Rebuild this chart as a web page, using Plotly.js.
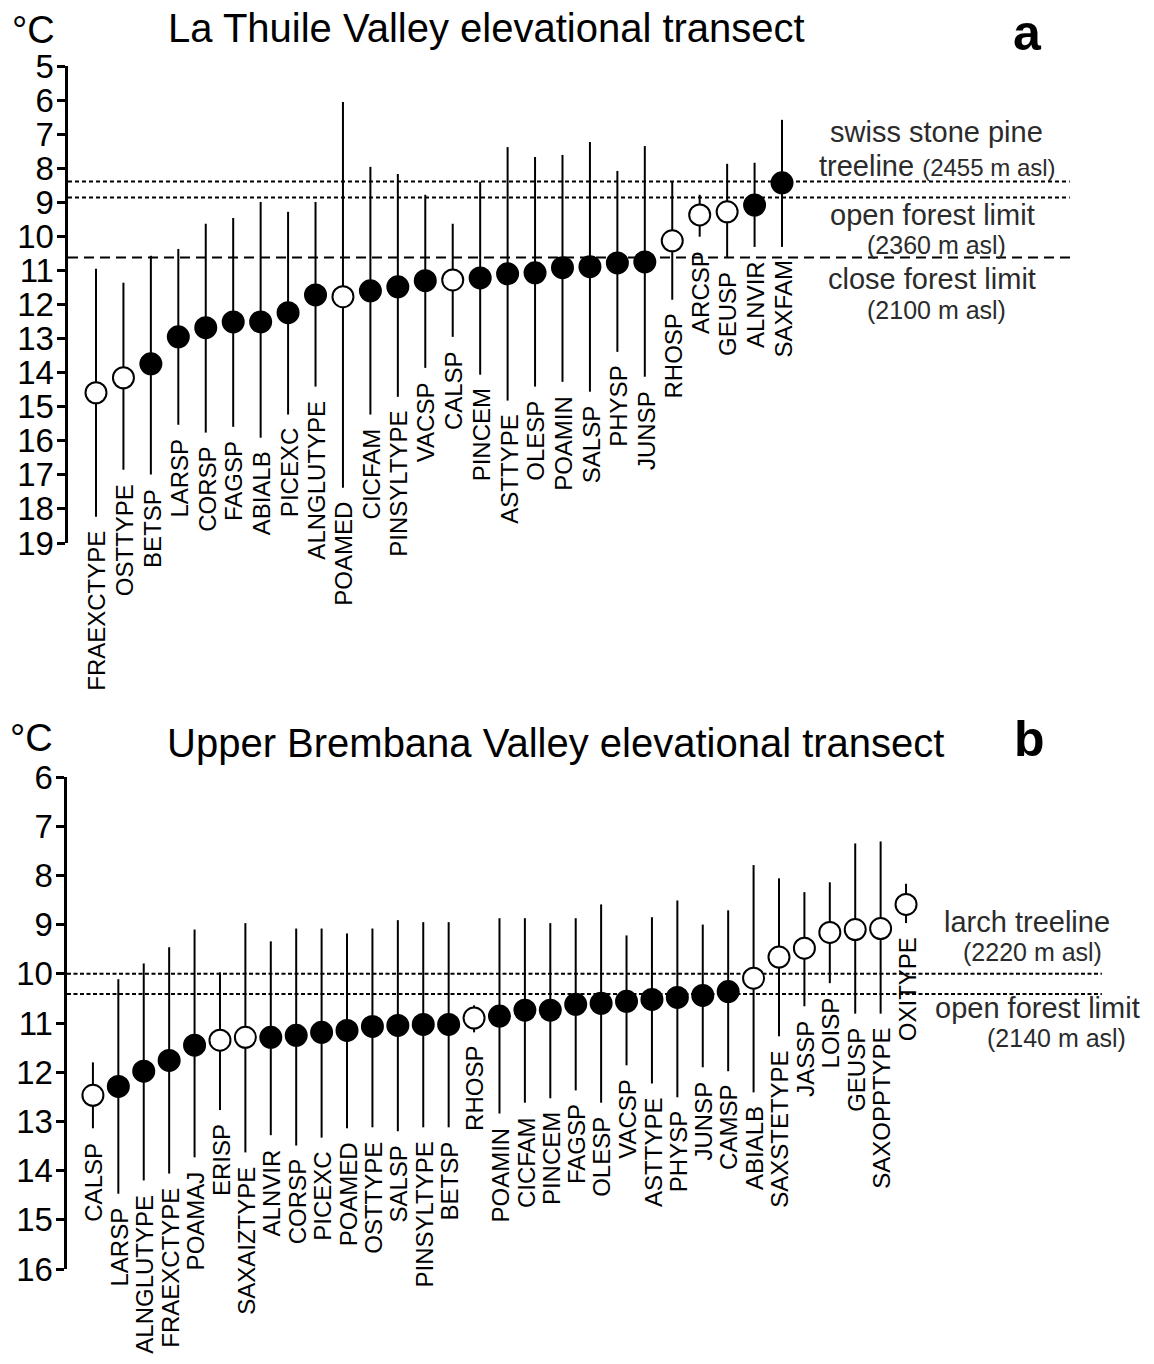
<!DOCTYPE html>
<html>
<head>
<meta charset="utf-8">
<script src="https://cdn.plot.ly/plotly-3.0.1.min.js"></script>
<style>
  html, body { margin: 0; padding: 0; background: #ffffff; }
  #chart { width: 1154px; height: 1364px; }
</style>
</head>
<body>
<div id="chart"></div>
<script>
// ---- Panel a: La Thuile Valley (taxon temperature optimum and tolerance range, °C)
const taxaA = ["FRAEXCTYPE", "OSTTYPE", "BETSP", "LARSP", "CORSP", "FAGSP", "ABIALB", "PICEXC",
  "ALNGLUTYPE", "POAMED", "CICFAM", "PINSYLTYPE", "VACSP", "CALSP", "PINCEM", "ASTTYPE",
  "OLESP", "POAMIN", "SALSP", "PHYSP", "JUNSP", "RHOSP", "ARCSP", "GEUSP", "ALNVIR", "SAXFAM"];
const optimumA = [14.59, 14.15, 13.74, 12.95, 12.68, 12.51, 12.51, 12.24, 11.72, 11.77, 11.60, 11.48,
  11.30, 11.28, 11.22, 11.10, 11.07, 10.92, 10.89, 10.78, 10.75, 10.13, 9.37, 9.28, 9.08, 8.43];
const coldA = [10.95, 11.36, 10.57, 10.37, 9.63, 9.46, 8.99, 9.28, 8.99, 6.06, 7.96, 8.17,
  8.78, 9.63, 8.40, 7.38, 7.67, 7.61, 7.23, 8.08, 7.35, 8.40, 8.78, 7.87, 7.84, 6.58];
const warmA = [18.23, 16.85, 16.99, 15.53, 15.76, 15.59, 15.91, 15.23, 14.41, 17.38, 15.23, 14.71,
  13.86, 12.95, 14.06, 14.82, 14.41, 14.27, 14.56, 13.39, 14.12, 11.86, 10.01, 10.63, 10.31, 10.31];
const openA = [true, true, false, false, false, false, false, false, false, true, false, false,
  false, true, false, false, false, false, false, false, false, true, true, true, false, false];
const limitsA = [8.39, 8.86, 10.62];

// ---- Panel b: Upper Brembana Valley
const taxaB = ["CALSP", "LARSP", "ALNGLUTYPE", "FRAEXCTYPE", "POAMAJ", "ERISP", "SAXAIZTYPE", "ALNVIR",
  "CORSP", "PICEXC", "POAMED", "OSTTYPE", "SALSP", "PINSYLTYPE", "BETSP", "RHOSP", "POAMIN",
  "CICFAM", "PINCEM", "FAGSP", "OLESP", "VACSP", "ASTTYPE", "PHYSP", "JUNSP", "CAMSP", "ABIALB",
  "SAXSTETYPE", "JASSP", "LOISP", "GEUSP", "SAXOPPTYPE", "OXITYPE"];
const optimumB = [12.47, 12.29, 11.98, 11.76, 11.45, 11.35, 11.29, 11.29, 11.25, 11.19, 11.15, 11.07,
  11.05, 11.03, 11.03, 10.90, 10.86, 10.74, 10.74, 10.62, 10.60, 10.56, 10.52, 10.48, 10.44, 10.36,
  10.09, 9.66, 9.48, 9.16, 9.10, 9.08, 8.59];
const coldB = [11.80, 10.11, 9.79, 9.46, 9.10, 9.97, 8.97, 9.34, 9.08, 9.08, 9.18, 9.08,
  8.91, 8.95, 8.95, 10.64, 8.87, 8.87, 8.97, 8.87, 8.59, 9.22, 8.85, 8.51, 9.00, 8.71,
  7.79, 8.06, 8.34, 8.14, 7.35, 7.31, 8.17];
const warmB = [13.14, 14.47, 14.20, 14.06, 13.73, 12.77, 13.63, 13.28, 13.49, 13.33, 13.14, 13.12,
  13.20, 13.12, 13.12, 11.19, 12.84, 12.62, 12.53, 12.37, 12.62, 11.86, 12.23, 12.51, 11.90, 11.98,
  12.41, 11.27, 10.66, 10.19, 10.81, 10.81, 8.97];
const openB = [true, false, false, false, false, true, true, false, false, false, false, false,
  false, false, false, true, false, false, false, false, false, false, false, false, false, false,
  true, true, true, true, true, true, true];
const limitsB = [10.0, 10.41];

// ---- page geometry helpers (pixel -> paper fraction)
const W = 1154, H = 1364;
const fx = p => p / W;
const fy = p => 1 - p / H;
const FONT = "Liberation Sans, Arial, sans-serif";

function taxonTrace(taxa, opt, cold, warm, open, xa, ya) {
  return {
    type: "scatter", mode: "markers",
    x: taxa.map((_, i) => i), y: opt,
    xaxis: xa, yaxis: ya,
    marker: {
      size: 21, symbol: "circle",
      color: open.map(o => (o ? "#ffffff" : "#000000")),
      line: { color: "#000000", width: 2 }
    },
    error_y: {
      type: "data", symmetric: false,
      array: warm.map((w, i) => w - opt[i]),
      arrayminus: cold.map((c, i) => opt[i] - c),
      width: 0, thickness: 2, color: "#000000"
    },
    hoverinfo: "skip", cliponaxis: false, showlegend: false
  };
}

function taxonLabels(taxa, warm, xa, ya) {
  return taxa.map((t, i) => ({
    xref: xa, yref: ya, x: i, y: warm[i],
    text: t, textangle: -90, showarrow: false,
    xanchor: "center", yanchor: "top", yshift: -12, xshift: 1,
    font: { family: FONT, size: 24, color: "#000000" }
  }));
}

function limitLines(values, dashes, xref, yref, ends) {
  return values.map((v, i) => ({
    type: "line", layer: "below",
    xref: xref + " domain", yref: yref,
    x0: 0, x1: ends[i], y0: v, y1: v,
    line: { color: "#000000", width: 2, dash: dashes[i] }
  }));
}

function textAt(text, xpx, ypx, size, opts) {
  return Object.assign({
    xref: "paper", yref: "paper", x: fx(xpx), y: fy(ypx),
    text: text, showarrow: false, xanchor: "center", yanchor: "middle",
    font: { family: FONT, size: size, color: "#000000" }
  }, opts || {});
}

const grey = "#2b2b2b";
const note = size => ({ font: { family: FONT, size: size, color: grey } });
const annotations = [
  // panel a headings
  textAt("°C", 10, 30, 38, { xanchor: "left" }),
  textAt("La Thuile Valley elevational transect", 486, 28, 40),
  textAt("<b>a</b>", 1027, 33, 50),
  // panel a limit notes
  textAt("swiss stone pine", 936, 132, 29, note(29)),
  textAt("treeline <span style=\"font-size:24px\">(2455 m asl)</span>", 937, 166, 29, note(29)),
  textAt("open forest limit", 932, 215, 29, note(29)),
  textAt("(2360 m asl)", 936, 245, 25, note(25)),
  textAt("close forest limit", 932, 279, 29, note(29)),
  textAt("(2100 m asl)", 936, 310, 25, note(25)),
  // panel b headings
  textAt("°C", 8, 738, 38, { xanchor: "left" }),
  textAt("Upper Brembana Valley elevational transect", 555, 743, 40),
  textAt("<b>b</b>", 1029, 739, 50),
  // panel b limit notes
  textAt("larch treeline", 1027, 922, 29, note(29)),
  textAt("(2220 m asl)", 1032, 952, 25, note(25)),
  textAt("open forest limit", 1037, 1008, 29, note(29)),
  textAt("(2140 m asl)", 1056, 1038, 25, note(25))
].concat(taxonLabels(taxaA, warmA, "x", "y"), taxonLabels(taxaB, warmB, "x2", "y2"));

const shapes = [].concat(
  limitLines(limitsA, ["4px,3px", "4px,3px", "10px,6px"], "x", "y", [0.966, 0.966, 0.971]),
  limitLines(limitsB, ["4px,2.5px", "4px,2.5px"], "x2", "y2", [0.997, 0.997])
);

const yAxisStyle = {
  showline: true, linewidth: 3.5, linecolor: "#000000",
  ticks: "outside", ticklen: 8, tickwidth: 3, tickcolor: "#000000",
  ticklabelstandoff: -4,
  showgrid: false, zeroline: false,
  tickfont: { family: FONT, size: 33, color: "#000000" },
  fixedrange: true
};
const xAxisStyle = {
  showline: false, showgrid: false, zeroline: false,
  showticklabels: false, ticks: "", fixedrange: true
};

// axis spans: panel a 5..19 °C over y 66..543 px, panel b 6..16 °C over y 777..1269 px
const layout = {
  width: W, height: H,
  margin: { l: 0, r: 0, t: 0, b: 0, pad: 0 },
  paper_bgcolor: "#ffffff", plot_bgcolor: "rgba(0,0,0,0)",
  font: { family: FONT, color: "#000000" },
  showlegend: false,
  xaxis: Object.assign({}, xAxisStyle, {
    domain: [fx(68), fx(1105)], range: [-1.02, 36.77], anchor: "y"
  }),
  yaxis: Object.assign({}, yAxisStyle, {
    domain: [fy(543), fy(66)], range: [19, 5],
    tickvals: [5, 6, 7, 8, 9, 10, 11, 12, 13, 14, 15, 16, 17, 18, 19], anchor: "x"
  }),
  xaxis2: Object.assign({}, xAxisStyle, {
    domain: [fx(67), fx(1105)], range: [-1.02, 39.83], anchor: "y2"
  }),
  yaxis2: Object.assign({}, yAxisStyle, {
    domain: [fy(1269), fy(777)], range: [16, 6],
    tickvals: [6, 7, 8, 9, 10, 11, 12, 13, 14, 15, 16], anchor: "x2"
  }),
  shapes: shapes,
  annotations: annotations
};

const data = [
  taxonTrace(taxaA, optimumA, coldA, warmA, openA, "x", "y"),
  taxonTrace(taxaB, optimumB, coldB, warmB, openB, "x2", "y2")
];

Plotly.newPlot("chart", data, layout, { staticPlot: true, displayModeBar: false });
</script>
</body>
</html>
